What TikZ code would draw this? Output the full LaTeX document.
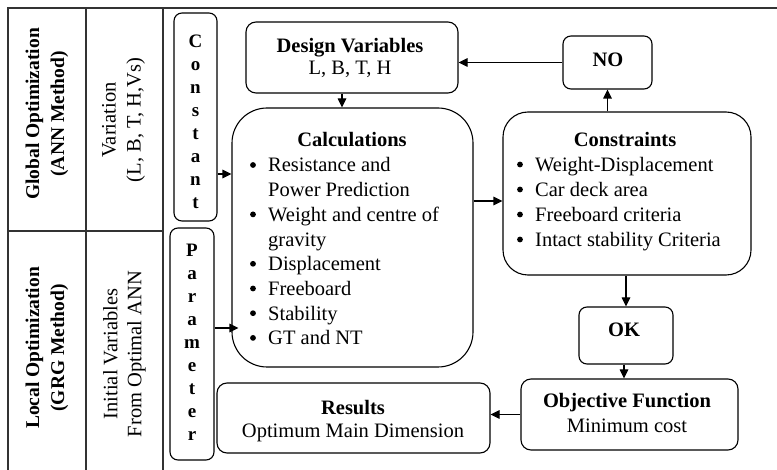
\documentclass[tikz,border=0pt]{standalone}
\usepackage{fontspec}
\setmainfont{Liberation Serif}
\usetikzlibrary{arrows.meta}
\begin{document}
\begin{tikzpicture}[x=1pt,y=-1pt,
  box/.style={draw, line width=1.1pt, rounded corners=8pt, inner sep=0pt},
  txt/.style={inner sep=0pt, font=\fontsize{20.5}{24}\selectfont},
  btxt/.style={inner sep=0pt, font=\fontsize{20.5}{24}\selectfont\bfseries},
  bul/.style={circle, fill=black, inner sep=0pt, minimum size=5.8pt},
  arr/.style={line width=1.1pt, -{Triangle[length=9pt,width=8.5pt]}},
  frame/.style={line width=1.2pt, draw=black!80}]
\useasboundingbox (0,0) rectangle (777,470);
% frame
\draw[frame] (8,470) -- (8,8) -- (777,8);
\draw[frame] (86,8) -- (86,470);
\draw[frame] (163,8) -- (163,470);
\draw[frame] (8,231) -- (163,231);
% left column texts
\node[rotate=90, align=center, inner sep=0pt, font=\fontsize{19.5}{25}\selectfont\bfseries] (glob) at (47,114) {Global Optimization\\(ANN Method)};
\node[rotate=90, align=center, inner sep=0pt, font=\fontsize{19.5}{25}\selectfont\bfseries] (loc) at (47,348) {Local Optimization\\(GRG Method)};
\node[rotate=90, align=center, inner sep=0pt, font=\fontsize{20.5}{25}\selectfont] (vari) at (123.5,120) {Variation\\(L, B, T, H,Vs)};
\node[rotate=90, align=center, inner sep=0pt, font=\fontsize{20.5}{24}\selectfont] (init) at (124.5,354) {Initial Variables\\From Optimal ANN};
% boxes
\node[box, minimum width=43pt, minimum height=208pt] (conbox) at (195.5,117) {};
\node[align=center, inner sep=0pt, font=\fontsize{19}{23}\selectfont\bfseries] (contxt) at (195.5,122) {C\\o\\n\\s\\t\\a\\n\\t};
\node[box, minimum width=44pt, minimum height=232pt] (parbox) at (192,344) {};
\node[align=center, inner sep=0pt, font=\fontsize{19}{23}\selectfont\bfseries] (partxt) at (192,342) {P\\a\\r\\a\\m\\e\\t\\e\\r};
\node[box, rounded corners=10pt, minimum width=212pt, minimum height=71pt] (design) at (352,57.5) {};
\node[btxt, anchor=base] (designt) at (350,53) {Design Variables};
\node[txt, anchor=base] (designv) at (350,75) {L, B, T, H};
\node[box, rounded corners=35pt, minimum width=241pt, minimum height=259pt] (calc) at (352.5,237.5) {};
\node[btxt, anchor=base] (calct) at (352,147) {Calculations};
\foreach \t [count=\i from 0] in {Resistance and,Power Prediction,Weight and centre of,gravity,Displacement,Freeboard,Stability,GT and NT}
  \node[txt, anchor=base west] (calc\i) at (268,172+24.7*\i) {\t};
\foreach \i in {0,2,4,5,6,7}
  \node[bul] (calcb\i) at (253,165+24.7*\i) {};
\node[box, rounded corners=25pt, minimum width=248pt, minimum height=163pt] (cons) at (627,193.5) {};
\node[btxt, anchor=base] (constitle) at (625,147) {Constraints};
\foreach \t [count=\i from 0] in {Weight-Displacement,Car deck area,Freeboard criteria,Intact stability Criteria}
  {\node[txt, anchor=base west] (cons\i) at (535,171.5+25*\i) {\t};
   \node[bul] (consb\i) at (520,164.5+25*\i) {};}
\node[box, minimum width=89pt, minimum height=53pt] (no) at (607.5,62.5) {};
\node[btxt, anchor=base] (not) at (608,67) {NO};
\node[box, minimum width=94pt, minimum height=57pt] (ok) at (626,335.5) {};
\node[btxt, anchor=base] (okt) at (624,337) {OK};
\node[box, rounded corners=10pt, minimum width=217pt, minimum height=71pt] (obj) at (629.5,414.5) {};
\node[btxt, anchor=base] (objt) at (627,408) {Objective Function};
\node[txt, anchor=base] (objv) at (627,432) {Minimum cost};
\node[box, rounded corners=10pt, minimum width=273pt, minimum height=70pt] (res) at (353.5,418) {};
\node[btxt, anchor=base] (rest) at (353,414) {Results};
\node[txt, anchor=base] (resv) at (353,437) {Optimum Main Dimension};
% connectors
\draw[arr] (conbox.east |- 0,174) -- (calc.west |- 0,174);
\draw[arr] (parbox.east |- 0,328) -- ([xshift=7pt]calc.west |- 0,328);
\draw[arr] ([xshift=-10pt]design.south) -- ([xshift=-10pt]design.south |- calc.north);
\draw[arr] (calc.east |- 0,201) -- (cons.west |- 0,201);
\draw[arr] (cons.north -| no.south) -- (no.south);
\draw[arr] (no.west) -- (no.west -| design.east);
\draw[arr] (ok.north |- cons.south) -- (ok.north);
\draw[arr] ([xshift=-2pt]ok.south) -- ([xshift=-2pt]ok.south |- obj.north);
\draw[arr] (obj.west) -- (obj.west -| res.east);
\end{tikzpicture}
\end{document}
